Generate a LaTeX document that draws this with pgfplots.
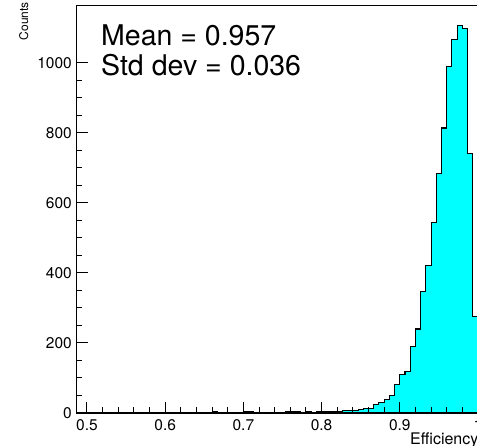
\documentclass[border=0pt]{standalone}
\usepackage{fontspec}
\setmainfont{TeX Gyre Heros}
\usepackage{pgfplots}
\pgfplotsset{compat=1.18}
\definecolor{rootcyan}{RGB}{0,255,255}
\begin{document}
\begin{tikzpicture}
\begin{scope}
\clip (0,0) rectangle (477bp,446bp);
\begin{axis}[
  at={(76bp,33bp)}, anchor=south west,
  scale only axis, width=402bp, height=407.3bp,
  xmin=0.486, xmax=1.0, ymin=0, ymax=1163.4,
  axis line style={line width=1bp},
  axis on top,
  tick pos=left, tick align=inside,
  xtick={0.5,0.6,0.7,0.8,0.9,1.0}, xticklabels={0.5,0.6,0.7,0.8,0.9,1},
  ytick={0,200,400,600,800,1000},
  yticklabels={0,200,400,600,800,1000},
  minor x tick num=4, minor y tick num=3,
  major tick length=11.5bp, minor tick length=6bp,
  every tick/.style={black, line width=1bp},
  tick label style={font=\fontsize{15.5bp}{16bp}\selectfont, inner sep=0pt},
  xticklabel style={yshift=-6bp},
  yticklabel style={xshift=-4bp},
  /pgf/number format/assume math mode=true,
  /pgf/number format/1000 sep={},
]
\addplot[const plot mark left, fill=rootcyan, draw=black, line width=1.1bp] coordinates {
(0.486,0) (0.65333,0)
(0.66,3) (0.66667,2) (0.67333,1) (0.68,2) (0.68667,0) (0.69333,1)
(0.7,3) (0.70667,3) (0.71333,2) (0.72,1) (0.72667,0) (0.73333,1)
(0.74,2) (0.74667,2) (0.75333,3) (0.76,5) (0.76667,3) (0.77333,2)
(0.78,3) (0.78667,2) (0.79333,3) (0.8,4) (0.80667,3) (0.81333,4)
(0.82,5) (0.82667,7) (0.83333,6) (0.84,8) (0.84667,10) (0.85333,12)
(0.86,13) (0.86667,25) (0.87333,31) (0.88,39) (0.88667,50) (0.89333,82)
(0.9,110) (0.90667,119) (0.91333,190) (0.92,240) (0.92667,347) (0.93333,421)
(0.94,545) (0.94667,683) (0.95333,814) (0.96,991) (0.96667,1066) (0.97333,1108)
(0.98,1098) (0.98667,740) (0.99333,275) (1.0,275)
} \closedcycle;
\end{axis}
\node[anchor=base west, inner sep=0pt, font=\fontsize{28.5bp}{30bp}\selectfont] at (101bp,400bp) {Mean = 0.957};
\node[anchor=base west, inner sep=0pt, font=\fontsize{28.5bp}{30bp}\selectfont] at (101bp,370bp) {Std dev = 0.036};
\node[rotate=90, anchor=base east, inner sep=0pt, font=\fontsize{12bp}{14bp}\selectfont] at (28bp,444bp) {Counts};
\node[anchor=base west, inner sep=0pt, font=\fontsize{16bp}{18bp}\selectfont] at (410bp,1.2bp) {Efficiency};
\end{scope}
\pgfresetboundingbox
\useasboundingbox (0,0) rectangle (477bp,446bp);
\end{tikzpicture}
\end{document}
